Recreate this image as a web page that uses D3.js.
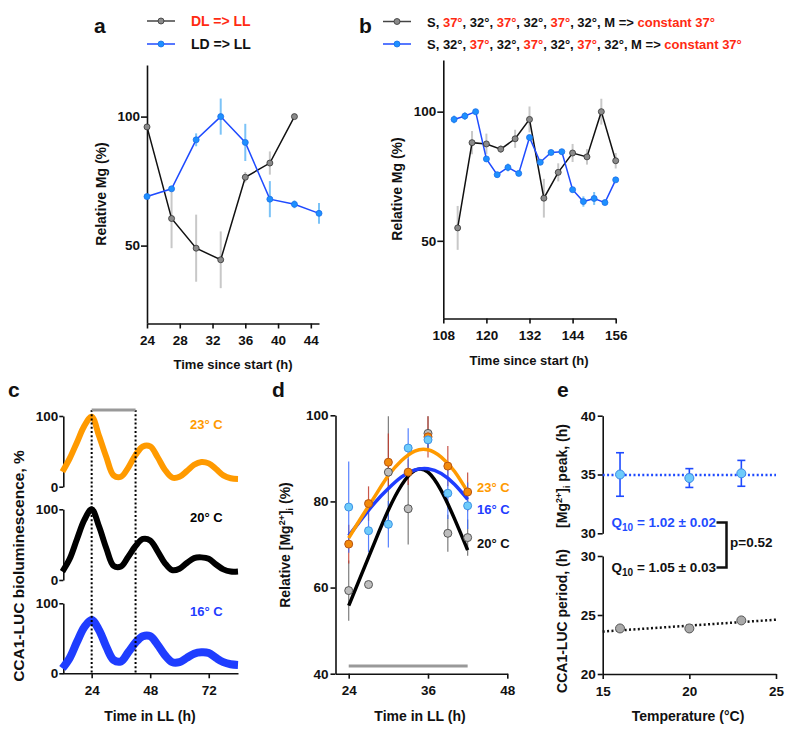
<!DOCTYPE html>
<html><head><meta charset="utf-8">
<script src="https://cdn.jsdelivr.net/npm/d3@7"></script>
<style>body{margin:0;background:#fff}svg{display:block}</style>
</head><body>
<svg id="chart" width="800" height="747"></svg>
<script>
// ---------- DATA ----------
// Panel a
const aDLTime = [24, 27, 30, 33, 36, 39, 42];
const aDLVal  = [96, 60.5, 49, 44.5, 76.5, 82, 100];
const aDLErr  = [0, 11.5, 13, 11, 2, 4.5, 0];
const aLDTime = [24, 27, 30, 33, 36, 39, 42, 45];
const aLDVal  = [69, 72, 91, 100, 90, 68, 66, 62.5];
const aLDErr  = [0, 0, 2.5, 7, 7.2, 7, 1.5, 4];
const aXTicks = [24, 28, 32, 36, 40, 44];
const aYTicks = [50, 100];
// Panel b
const bBlackTime = [112, 116, 120, 124, 128, 132, 136, 140, 144, 148, 152, 156];
const bBlackVal  = [55, 88, 87.5, 85.5, 89.5, 97, 66.5, 76.5, 84, 82.5, 100, 81];
const bBlackErr  = [8.5, 4.5, 4, 1.5, 3.5, 5, 7.5, 3.5, 3.5, 3, 5, 3];
const bBlueTime  = [111, 114, 117, 120, 123, 126, 129, 132, 135, 138, 141, 144, 147, 150, 153, 156];
const bBlueVal   = [97, 98.3, 100, 81.7, 75.6, 78.4, 76.1, 90, 80.4, 84.2, 84.5, 69.8, 65.2, 66.4, 64.8, 73.6];
const bBlueErr   = [1.5, 1.5, 0.5, 1, 1, 1.5, 1, 1, 1, 1, 1, 1, 2, 2.5, 1, 1];
const bXTicks = [108, 120, 132, 144, 156];
// Panel c (CCA1-LUC traces)
const cTime = [12,15,18,21,24,27,30,33,36,39,42,45,48,51,54,57,60,63,66,69,72,75,78,81,84];
const c23 = [21,40,63,86,99,72,42,16,14,27,45,57,57,42,24,13,14,22,31,35,33,25,16,12,11];
const c20 = [12,30,58,85,100,76,45,20,19,33,48,58,56,41,24,14,16,24,31,32,30,22,15,12,12];
const c16 = [7,22,45,66,76,62,38,19,17,30,44,53,53,41,26,16,16,22,28,30,29,22,16,13,12];
const cXTicks = [24, 48, 72];
const cYTicks = [0, 100];
const cMarks = [24, 42];
// Panel d
const dTime = [24, 27, 30, 33, 36, 39, 42];
const d23 = [70.1, 79.5, 89.1, 86.8, 95, 88.2, 82.2];
const d23Err = [4.5, 4, 6.7, 3, 4.8, 4.7, 4.5];
const d20 = [59.3, 60.7, 86.8, 78.3, 95.8, 72.6, 71.6];
const d20Err = [7, 0, 13, 8.3, 4, 4.3, 4.2];
const d16 = [78.7, 73.2, 74.7, 92.4, 94.3, 81.9, 79];
const d16Err = [10.6, 5, 5.4, 4.6, 2, 6, 5.4];
const dFitTime = [24, 26, 28, 30, 32, 34, 36, 38, 40, 42];
const dFit23 = [71.5, 76.5, 81.3, 86, 89.5, 91.7, 92, 90.3, 87, 82.2];
const dFit16 = [72, 76, 79.8, 83, 85.7, 87.3, 87.6, 86.5, 84, 80.5];
const dFit20 = [55.8, 63.3, 70.8, 78, 83.8, 87.2, 86.8, 82.5, 76, 68.7];
const dXTicks = [24, 36, 48];
const dYTicks = [40, 60, 80, 100];
// Panel e
const eTemp = [16, 20, 23];
const ePeak = [35.0, 34.7, 35.1];
const ePeakErr = [1.85, 0.8, 1.1];
const ePeriod = [23.86, 23.86, 24.54];
const eFitTemp = [15, 25];
const ePeakFit = [34.95, 34.95];
const ePeriodFit = [23.6, 24.6];
const eXTicks = [15, 20, 25];

// ---------- DRAWING ----------
const FONT = "'Liberation Sans', Arial, Helvetica, sans-serif";
const svg = d3.select('#chart');
svg.append('rect').attr('width', 800).attr('height', 747).attr('fill', '#fff');
const RED = '#ff2a12', BLUE = '#1f4bff', LBLUE = '#1e90ff', ORANGE = '#ff9a00';

function styleAxis(g, fs) {
  g.select('.domain').attr('stroke', '#111').attr('stroke-width', 1.6);
  g.selectAll('.tick line').attr('stroke', '#111').attr('stroke-width', 1.6);
  g.selectAll('text').attr('font-size', fs || 13.5).attr('font-weight', 'bold')
    .attr('fill', '#111').attr('font-family', FONT);
}
function text(x, y, s, opts) {
  opts = opts || {};
  return svg.append('text').attr('x', x).attr('y', y).text(s)
    .attr('font-family', FONT).attr('font-weight', 'bold')
    .attr('font-size', opts.size || 13).attr('fill', opts.fill || '#111')
    .attr('text-anchor', opts.anchor || 'start');
}
function yTitle(cx, cy, s, size) {
  return svg.append('text').attr('transform', `translate(${cx},${cy}) rotate(-90)`)
    .attr('text-anchor', 'middle').attr('dy', '0.35em')
    .attr('font-family', FONT).attr('font-weight', 'bold')
    .attr('font-size', size || 14).attr('fill', '#111').text(s);
}
function zip(xs, ys) { return xs.map((x, i) => [x, ys[i]]); }

// ===== Panel a =====
(function () {
  const x = d3.scaleLinear().domain([24, 45]).range([147, 319]);
  const y = d3.scaleLinear().domain([20, 120]).range([323, 65]);
  svg.append('g').attr('transform', 'translate(0,323.5)')
    .call(d3.axisBottom(x).tickValues(aXTicks).tickSize(5).tickSizeOuter(0).tickPadding(7))
    .call(styleAxis);
  svg.append('g').attr('transform', 'translate(147,0)')
    .call(d3.axisLeft(y).tickValues(aYTicks).tickSize(6).tickSizeOuter(0).tickPadding(1))
    .call(styleAxis);
  const line = d3.line().x(d => x(d[0])).y(d => y(d[1]));
  svg.append('g').selectAll('line').data(aDLTime.map((t, i) => [t, aDLVal[i], aDLErr[i]]).filter(d => d[2] > 0))
    .join('line').attr('x1', d => x(d[0])).attr('x2', d => x(d[0]))
    .attr('y1', d => y(d[1] - d[2])).attr('y2', d => y(d[1] + d[2]))
    .attr('stroke', '#c8c8c8').attr('stroke-width', 2);
  svg.append('g').selectAll('line').data(aLDTime.map((t, i) => [t, aLDVal[i], aLDErr[i]]).filter(d => d[2] > 0))
    .join('line').attr('x1', d => x(d[0])).attr('x2', d => x(d[0]))
    .attr('y1', d => y(d[1] - d[2])).attr('y2', d => y(d[1] + d[2]))
    .attr('stroke', '#7cc3f7').attr('stroke-width', 2);
  svg.append('path').attr('d', line(zip(aDLTime, aDLVal))).attr('fill', 'none').attr('stroke', '#111').attr('stroke-width', 1.5);
  svg.append('path').attr('d', line(zip(aLDTime, aLDVal))).attr('fill', 'none').attr('stroke', BLUE).attr('stroke-width', 1.5);
  svg.append('g').selectAll('circle').data(zip(aDLTime, aDLVal)).join('circle')
    .attr('cx', d => x(d[0])).attr('cy', d => y(d[1])).attr('r', 3)
    .attr('fill', '#8a8a8a').attr('stroke', '#333').attr('stroke-width', 0.8);
  svg.append('g').selectAll('circle').data(zip(aLDTime, aLDVal)).join('circle')
    .attr('cx', d => x(d[0])).attr('cy', d => y(d[1])).attr('r', 3)
    .attr('fill', LBLUE).attr('stroke', '#1a6fe8').attr('stroke-width', 0.8);
  svg.append('line').attr('x1', 147).attr('x2', 175).attr('y1', 21).attr('y2', 21).attr('stroke', '#444').attr('stroke-width', 1.5);
  svg.append('circle').attr('cx', 161).attr('cy', 21).attr('r', 3).attr('fill', '#8a8a8a').attr('stroke', '#333').attr('stroke-width', 0.8);
  svg.append('line').attr('x1', 147).attr('x2', 175).attr('y1', 44).attr('y2', 44).attr('stroke', BLUE).attr('stroke-width', 1.5);
  svg.append('circle').attr('cx', 161).attr('cy', 44).attr('r', 3).attr('fill', LBLUE).attr('stroke', '#1a6fe8').attr('stroke-width', 0.8);
  text(191, 26, 'DL => LL', { size: 14, fill: RED });
  text(191, 49, 'LD => LL', { size: 14 });
  text(94, 33, 'a', { size: 21 });
  yTitle(101, 194, 'Relative Mg (%)');
  text(233, 369, 'Time since start (h)', { anchor: 'middle' });
})();

// ===== Panel b =====
(function () {
  const x = d3.scaleLinear().domain([108, 156]).range([443.3, 615.7]);
  const y = d3.scaleLinear().domain([20, 120]).range([318.3, 60]);
  svg.append('g').attr('transform', 'translate(0,318.5)')
    .call(d3.axisBottom(x).tickValues(bXTicks).tickSize(5).tickSizeOuter(0).tickPadding(7))
    .call(styleAxis);
  svg.append('g').attr('transform', 'translate(443.3,0)')
    .call(d3.axisLeft(y).tickValues(aYTicks).tickSize(6).tickSizeOuter(0).tickPadding(1))
    .call(styleAxis);
  const line = d3.line().x(d => x(d[0])).y(d => y(d[1]));
  svg.append('g').selectAll('line').data(bBlackTime.map((t, i) => [t, bBlackVal[i], bBlackErr[i]]))
    .join('line').attr('x1', d => x(d[0])).attr('x2', d => x(d[0]))
    .attr('y1', d => y(d[1] - d[2])).attr('y2', d => y(d[1] + d[2]))
    .attr('stroke', '#c8c8c8').attr('stroke-width', 2);
  svg.append('g').selectAll('line').data(bBlueTime.map((t, i) => [t, bBlueVal[i], bBlueErr[i]]))
    .join('line').attr('x1', d => x(d[0])).attr('x2', d => x(d[0]))
    .attr('y1', d => y(d[1] - d[2])).attr('y2', d => y(d[1] + d[2]))
    .attr('stroke', '#7cc3f7').attr('stroke-width', 2);
  svg.append('path').attr('d', line(zip(bBlackTime, bBlackVal))).attr('fill', 'none').attr('stroke', '#111').attr('stroke-width', 1.5);
  svg.append('path').attr('d', line(zip(bBlueTime, bBlueVal))).attr('fill', 'none').attr('stroke', BLUE).attr('stroke-width', 1.5);
  svg.append('g').selectAll('circle').data(zip(bBlackTime, bBlackVal)).join('circle')
    .attr('cx', d => x(d[0])).attr('cy', d => y(d[1])).attr('r', 3)
    .attr('fill', '#8a8a8a').attr('stroke', '#333').attr('stroke-width', 0.8);
  svg.append('g').selectAll('circle').data(zip(bBlueTime, bBlueVal)).join('circle')
    .attr('cx', d => x(d[0])).attr('cy', d => y(d[1])).attr('r', 3)
    .attr('fill', LBLUE).attr('stroke', '#1a6fe8').attr('stroke-width', 0.8);
  svg.append('line').attr('x1', 383).attr('x2', 411).attr('y1', 21.5).attr('y2', 21.5).attr('stroke', '#444').attr('stroke-width', 1.5);
  svg.append('circle').attr('cx', 397).attr('cy', 21.5).attr('r', 3).attr('fill', '#8a8a8a').attr('stroke', '#333').attr('stroke-width', 0.8);
  svg.append('line').attr('x1', 383).attr('x2', 411).attr('y1', 44).attr('y2', 44).attr('stroke', BLUE).attr('stroke-width', 1.5);
  svg.append('circle').attr('cx', 397).attr('cy', 44).attr('r', 3).attr('fill', LBLUE).attr('stroke', '#1a6fe8').attr('stroke-width', 0.8);
  function legendLine(yy, parts) {
    const t = text(427, yy, '', { size: 13 });
    parts.forEach(p => t.append('tspan').text(p[0]).attr('fill', p[1] ? RED : '#111'));
  }
  legendLine(26.5, [['S, '], ['37°', 1], [', 32°, '], ['37°', 1], [', 32°, '], ['37°', 1], [', 32°, M => '], ['constant 37°', 1]]);
  legendLine(49, [['S, 32°, '], ['37°', 1], [', 32°, '], ['37°', 1], [', 32°, '], ['37°', 1], [', 32°, M => '], ['constant 37°', 1]]);
  text(359, 33, 'b', { size: 21 });
  yTitle(397, 189, 'Relative Mg (%)');
  text(529, 365, 'Time since start (h)', { anchor: 'middle' });
})();

// ===== Panel c =====
(function () {
  const x = d3.scaleLinear().domain([12, 84]).range([62.4, 238]);
  const bands = [
    { vals: c23, color: ORANGE, r: [486.7, 416], label: '23° C', w: 6 },
    { vals: c20, color: '#000', r: [580, 509.3], label: '20° C', w: 6 },
    { vals: c16, color: '#1f3dff', r: [673.3, 603.3], label: '16° C', w: 8 }
  ];
  bands.forEach((b, i) => {
    const y = d3.scaleLinear().domain([0, 100]).range(b.r);
    svg.append('g').attr('transform', 'translate(63.3,0)')
      .call(d3.axisLeft(y).tickValues(cYTicks).tickSize(4).tickSizeOuter(0).tickPadding(1))
      .call(styleAxis);
    const line = d3.line().curve(d3.curveCatmullRom.alpha(0.5)).x(d => x(d[0])).y(d => y(d[1]));
    svg.append('path').attr('d', line(zip(cTime, b.vals))).attr('fill', 'none')
      .attr('stroke', b.color).attr('stroke-width', b.w).attr('stroke-linejoin', 'round');
    text(190, y(100) + 12.5, b.label, { fill: b.color });
  });
  svg.append('g').attr('transform', 'translate(0,673.3)')
    .call(d3.axisBottom(x).tickValues(cXTicks).tickSize(5).tickSizeOuter(0).tickPadding(7))
    .call(styleAxis);
  cMarks.forEach(t => {
    svg.append('line').attr('x1', x(t)).attr('x2', x(t)).attr('y1', 410).attr('y2', 673)
      .attr('stroke', '#000').attr('stroke-width', 2).attr('stroke-dasharray', '2,2.2');
  });
  svg.append('line').attr('x1', x(cMarks[0])).attr('x2', x(cMarks[1])).attr('y1', 410).attr('y2', 410)
    .attr('stroke', '#999').attr('stroke-width', 3);
  text(8, 397, 'c', { size: 21 });
  yTitle(19, 566, 'CCA1-LUC bioluminescence, %', 15.5);
  text(150, 721, 'Time in LL (h)', { anchor: 'middle', size: 14 });
})();

// ===== Panel d =====
(function () {
  const x = d3.scaleLinear().domain([22, 48]).range([335.5, 507.3]);
  const y = d3.scaleLinear().domain([40, 100]).range([673.7, 415.3]);
  svg.append('g').attr('transform', 'translate(0,673.7)')
    .call(d3.axisBottom(x).tickValues(dXTicks).tickSize(5).tickSizeOuter(0).tickPadding(7))
    .call(styleAxis);
  svg.append('g').attr('transform', 'translate(335.5,0)')
    .call(d3.axisLeft(y).tickValues(dYTicks).tickSize(5).tickSizeOuter(0).tickPadding(2))
    .call(styleAxis);
  svg.append('line').attr('x1', x(24)).attr('x2', x(42)).attr('y1', y(41.8)).attr('y2', y(41.8))
    .attr('stroke', '#999').attr('stroke-width', 3);
  const series = [
    { v: d20, e: d20Err, fill: '#bdbdbd', stroke: '#555', ecol: '#666' },
    { v: d23, e: d23Err, fill: '#f28a0c', stroke: '#b85410', ecol: '#c0392b' },
    { v: d16, e: d16Err, fill: '#6ecbfa', stroke: '#3c92e6', ecol: '#3a6cff' }
  ];
  series.forEach(s => {
    svg.append('g').selectAll('line').data(dTime.map((t, i) => [t, s.v[i], s.e[i]]).filter(d => d[2] > 0))
      .join('line').attr('x1', d => x(d[0])).attr('x2', d => x(d[0]))
      .attr('y1', d => y(d[1] - d[2])).attr('y2', d => y(d[1] + d[2]))
      .attr('stroke', s.ecol).attr('stroke-width', 1.2).attr('opacity', 0.85);
  });
  const line = d3.line().curve(d3.curveNatural).x(d => x(d[0])).y(d => y(d[1]));
  [[dFit20, '#000'], [dFit16, '#1f3dff'], [dFit23, ORANGE]].forEach(f => {
    svg.append('path').attr('d', line(zip(dFitTime, f[0]))).attr('fill', 'none')
      .attr('stroke', f[1]).attr('stroke-width', 3.5);
  });
  series.forEach(s => {
    svg.append('g').selectAll('circle').data(zip(dTime, s.v)).join('circle')
      .attr('cx', d => x(d[0])).attr('cy', d => y(d[1])).attr('r', 4)
      .attr('fill', s.fill).attr('stroke', s.stroke).attr('stroke-width', 1);
  });
  text(477, 492, '23° C', { fill: ORANGE });
  text(477, 514, '16° C', { fill: '#1f3dff' });
  text(477, 548, '20° C');
  text(272, 397, 'd', { size: 21 });
  const t = svg.append('text').attr('transform', 'translate(285,545) rotate(-90)')
    .attr('text-anchor', 'middle').attr('dy', '0.35em')
    .attr('font-family', FONT).attr('font-weight', 'bold').attr('font-size', 14).attr('fill', '#111');
  t.append('tspan').text('Relative [Mg');
  t.append('tspan').text('2+').attr('font-size', 9).attr('dy', -5);
  t.append('tspan').text(']').attr('dy', 5);
  t.append('tspan').text('i').attr('font-size', 9).attr('dy', 3);
  t.append('tspan').text(' (%)').attr('dy', -3);
  text(420, 721, 'Time in LL (h)', { anchor: 'middle', size: 14 });
})();

// ===== Panel e =====
(function () {
  const x = d3.scaleLinear().domain([15, 25]).range([602.7, 776]);
  const yU = d3.scaleLinear().domain([30, 40]).range([533.3, 415.7]);
  const yL = d3.scaleLinear().domain([20, 30]).range([674, 556]);
  svg.append('g').attr('transform', 'translate(0,674)')
    .call(d3.axisBottom(x).tickValues(eXTicks).tickSize(5).tickSizeOuter(0).tickPadding(7))
    .call(styleAxis);
  svg.append('g').attr('transform', 'translate(602.7,0)')
    .call(d3.axisLeft(yU).tickValues([30, 35, 40]).tickSize(5).tickSizeOuter(0).tickPadding(2))
    .call(styleAxis);
  svg.append('g').attr('transform', 'translate(602.7,0)')
    .call(d3.axisLeft(yL).tickValues([20, 25, 30]).tickSize(5).tickSizeOuter(0).tickPadding(2))
    .call(styleAxis);
  const lineU = d3.line().x(d => x(d[0])).y(d => yU(d[1]));
  const lineL = d3.line().x(d => x(d[0])).y(d => yL(d[1]));
  svg.append('path').attr('d', lineU(zip(eFitTemp, ePeakFit))).attr('stroke', '#1f4bff')
    .attr('stroke-width', 2.5).attr('stroke-dasharray', '2,2.4').attr('fill', 'none');
  svg.append('path').attr('d', lineL(zip(eFitTemp, ePeriodFit))).attr('stroke', '#111')
    .attr('stroke-width', 2.5).attr('stroke-dasharray', '2,2.4').attr('fill', 'none');
  const eb = svg.append('g').attr('stroke', '#1f4bff').attr('stroke-width', 1.6);
  eTemp.forEach((t, i) => {
    const cx = x(t), y1 = yU(ePeak[i] - ePeakErr[i]), y2 = yU(ePeak[i] + ePeakErr[i]);
    eb.append('line').attr('x1', cx).attr('x2', cx).attr('y1', y1).attr('y2', y2);
    eb.append('line').attr('x1', cx - 4).attr('x2', cx + 4).attr('y1', y1).attr('y2', y1);
    eb.append('line').attr('x1', cx - 4).attr('x2', cx + 4).attr('y1', y2).attr('y2', y2);
  });
  svg.append('g').selectAll('circle').data(zip(eTemp, ePeak)).join('circle')
    .attr('cx', d => x(d[0])).attr('cy', d => yU(d[1])).attr('r', 4.5)
    .attr('fill', '#6ecbfa').attr('stroke', '#3c86e6').attr('stroke-width', 1);
  svg.append('g').selectAll('circle').data(zip(eTemp, ePeriod)).join('circle')
    .attr('cx', d => x(d[0])).attr('cy', d => yL(d[1])).attr('r', 4.5)
    .attr('fill', '#a9a9a9').attr('stroke', '#555').attr('stroke-width', 1);
  function q10(yy, val, color) {
    const t = text(611.5, yy, '', { fill: color, size: 13.5 });
    t.append('tspan').text('Q');
    t.append('tspan').text('10').attr('font-size', 10).attr('dy', 3.5);
    t.append('tspan').text(' = ' + val).attr('dy', -3.5);
  }
  q10(527, '1.02 ± 0.02', '#1f4bff');
  q10(572, '1.05 ± 0.03', '#111');
  svg.append('path').attr('d', 'M716.5,522.5 H726.5 V567.5 H716.5').attr('fill', 'none')
    .attr('stroke', '#111').attr('stroke-width', 2.5);
  text(730, 547, 'p=0.52', { size: 13.5 });
  text(557, 397, 'e', { size: 21 });
  const t = svg.append('text').attr('transform', 'translate(562,476) rotate(-90)')
    .attr('text-anchor', 'middle').attr('dy', '0.35em')
    .attr('font-family', FONT).attr('font-weight', 'bold').attr('font-size', 14).attr('fill', '#111');
  t.append('tspan').text('[Mg');
  t.append('tspan').text('2+').attr('font-size', 9).attr('dy', -5);
  t.append('tspan').text(']').attr('dy', 5);
  t.append('tspan').text('i').attr('font-size', 9).attr('dy', 3);
  t.append('tspan').text(' peak, (h)').attr('dy', -3);
  yTitle(562, 621, 'CCA1-LUC period, (h)');
  text(688, 721, 'Temperature (°C)', { anchor: 'middle', size: 14 });
})();
</script>
</body></html>
